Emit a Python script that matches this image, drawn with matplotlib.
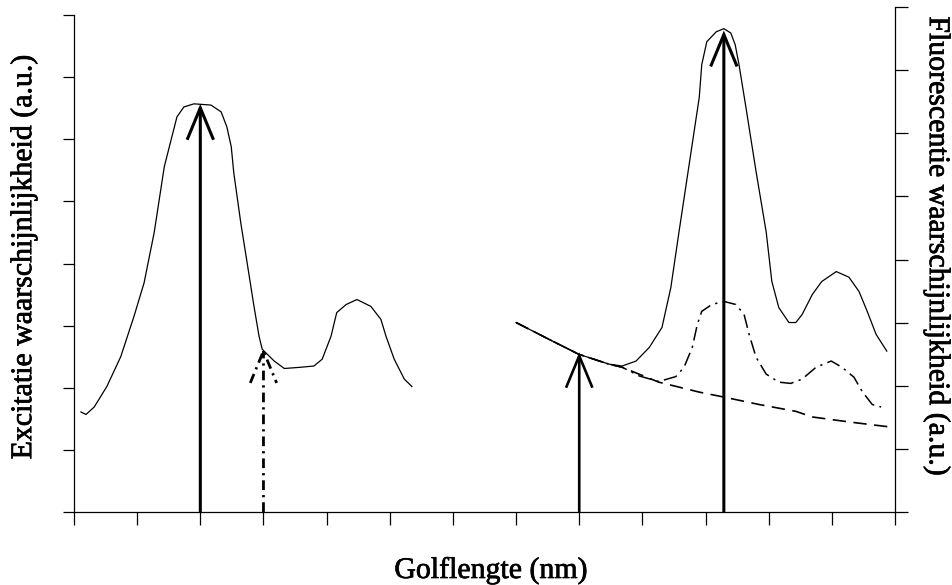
import matplotlib
matplotlib.use("Agg")
import matplotlib.pyplot as plt
from matplotlib.patches import FancyArrowPatch
import matplotlib.patheffects as pe

# ---------------- data (wavelength in tick units, probability in a.u.) ----------------
exc_x = [0.11, 0.19, 0.32, 0.52, 0.74, 0.95, 1.11, 1.27, 1.43, 1.55, 1.63, 1.74, 1.90,
         2.17, 2.33, 2.42, 2.49, 2.53, 2.64, 2.74, 2.85, 2.93, 2.98, 3.17, 3.33, 3.59,
         3.80, 3.93, 4.07, 4.16, 4.31, 4.48, 4.70, 4.86, 4.94, 5.07, 5.23, 5.35]
exc_y = [1.61, 1.57, 1.69, 2.02, 2.50, 3.15, 3.69, 4.50, 5.56, 6.04, 6.36, 6.52, 6.57,
         6.55, 6.44, 6.20, 5.88, 5.46, 4.66, 4.02, 3.31, 2.83, 2.62, 2.43, 2.31, 2.33,
         2.35, 2.46, 2.83, 3.21, 3.34, 3.42, 3.31, 3.10, 2.83, 2.46, 2.14, 2.02]

# background (scatter) curve, long dashes
bg_x = [7.00, 7.52, 7.99, 8.47, 8.68, 9.26, 9.90, 10.29, 10.85, 11.43, 11.69, 12.27, 12.91]
bg_y = [3.05, 2.78, 2.54, 2.38, 2.33, 2.09, 1.93, 1.85, 1.73, 1.62, 1.53, 1.45, 1.37]

# weak fluorescence curve, dash-dot
weak_x = [7.00, 7.52, 7.99, 8.47, 8.68, 8.95, 9.26, 9.53, 9.66, 9.79, 9.87, 9.94, 10.10,
          10.29, 10.48, 10.61, 10.69, 10.80, 10.96, 11.16, 11.35, 11.53, 11.75, 11.99,
          12.16, 12.35, 12.48, 12.64, 12.78]
weak_y = [3.05, 2.78, 2.54, 2.38, 2.33, 2.19, 2.10, 2.18, 2.33, 2.65, 3.02, 3.23, 3.34,
          3.39, 3.34, 3.18, 2.86, 2.49, 2.22, 2.09, 2.07, 2.14, 2.33, 2.43,
          2.33, 2.17, 1.94, 1.73, 1.69]

# strong fluorescence curve, solid
fl_x = [7.00, 7.52, 7.99, 8.47, 8.68, 8.90, 9.11, 9.31, 9.45, 9.58, 9.74, 9.90, 9.94,
        10.02, 10.17, 10.29, 10.40, 10.47, 10.53, 10.64, 10.80, 10.96, 11.05, 11.16,
        11.32, 11.43, 11.53, 11.69, 11.84, 12.07, 12.27, 12.43, 12.56, 12.70, 12.87]
fl_y = [3.05, 2.78, 2.54, 2.38, 2.35, 2.43, 2.65, 2.97, 3.61, 4.51, 5.59, 6.67, 7.20,
        7.57, 7.73, 7.78, 7.71, 7.52, 7.20, 6.51, 5.48, 4.51, 3.71, 3.29,
        3.05, 3.05, 3.18, 3.50, 3.71, 3.87, 3.78, 3.55, 3.23, 2.86, 2.59]

# vertical arrows: position, tip height, style
arrow_x = [2.0, 3.0, 8.0, 10.29]
arrow_tip = [6.57, 2.65, 2.57, 7.75]
arrow_ls = ["solid", (0, (3.5, 1.8, 0.8, 1.8)), "solid", "solid"]
arrow_lw = [2.2, 2.0, 1.9, 2.2]

x_ticks = list(range(0, 14))
left_ticks = list(range(0, 9))
right_ticks = list(range(0, 9))

xlabel = "Golflengte (nm)"
ylabel_left = "Excitatie waarschijnlijkheid (a.u.)"
ylabel_right = "Fluorescentie waarschijnlijkheid (a.u.)"

# ---------------- figure ----------------
W, H = 952, 585
fig = plt.figure(figsize=(W / 100, H / 100), dpi=100)
fig.patch.set_facecolor("white")

bottom_px, top_px, left_px, right_px = 512, 7, 74, 895
ax = fig.add_axes([left_px / W, (H - bottom_px) / H,
                   (right_px - left_px) / W, (bottom_px - top_px) / H])
ax.set_xlim(0, 13)
left_top = (bottom_px - top_px) / ((bottom_px - 15) / 8)
ax.set_ylim(0, left_top)

ax2 = ax.twinx()
ax2.set_ylim(0, 8)

for s in ["top", "right"]:
    ax.spines[s].set_visible(False)
for s in ["top", "left", "bottom"]:
    ax2.spines[s].set_visible(False)
ax.spines["left"].set_bounds(0, 8)
for sp in [ax.spines["left"], ax.spines["bottom"], ax2.spines["right"]]:
    sp.set_linewidth(0.9)

ax.set_xticks(x_ticks)
ax.set_yticks(left_ticks)
ax2.set_yticks(right_ticks)
ax.tick_params(axis="x", direction="out", length=9.5, width=0.9, labelbottom=False)
ax.tick_params(axis="y", direction="out", length=8, width=0.9, labelleft=False)
ax2.tick_params(axis="y", direction="out", length=9, width=0.9, labelright=False)

ln = 0.9
ax.plot(exc_x, exc_y, color="black", lw=ln, solid_joinstyle="round")
ax.plot(bg_x, bg_y, color="black", lw=1.2, linestyle=(0, (8, 4.5)))
ax.plot(weak_x, weak_y, color="black", lw=1.1, linestyle=(0, (9, 3.5, 1.5, 3.5)))
ax.plot(fl_x, fl_y, color="black", lw=ln, solid_joinstyle="round")

for x, tip, ls, lw in zip(arrow_x, arrow_tip, arrow_ls, arrow_lw):
    arr = FancyArrowPatch((x, 0), (x, tip),
                          arrowstyle="->,head_length=2.3,head_width=0.95",
                          mutation_scale=10, color="black", lw=lw, linestyle=ls,
                          shrinkA=0, shrinkB=0, capstyle="butt", joinstyle="miter")
    ax.add_patch(arr)

font = "Liberation Serif"
fs = 21.5
effects = [pe.withStroke(linewidth=0.5, foreground="black")]
fig.text(491 / W, (H - 578) / H, xlabel, ha="center", va="baseline",
         fontsize=fs, family=font, path_effects=effects)
fig.text(24 / W, 1 - 257 / H, ylabel_left, rotation=90, ha="center", va="center",
         fontsize=fs, family=font, path_effects=effects)
fig.text(937 / W, 1 - 246 / H, ylabel_right, rotation=-90, ha="center", va="center",
         fontsize=fs, family=font, path_effects=effects)

fig.savefig("out.png", dpi=100, facecolor="white")
